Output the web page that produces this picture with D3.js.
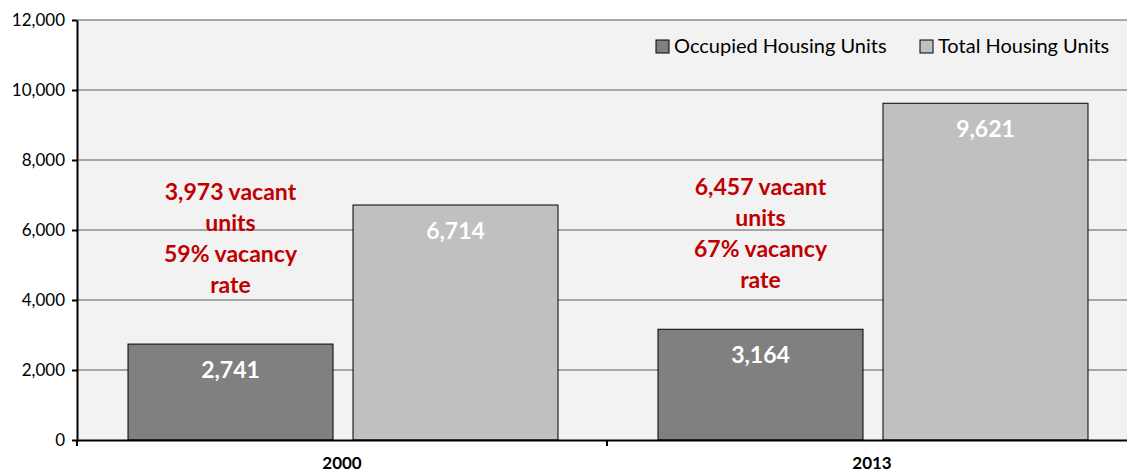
<!doctype html>
<html>
<head>
<meta charset="UTF-8">
<script src="https://d3js.org/d3.v7.min.js"></script>
<style>
  body { margin: 0; background: #fff; }
  text { font-family: Lato, "Open Sans", sans-serif; }
</style>
</head>
<body>
<svg id="chart" width="1127" height="473"></svg>
<script>
// chart data
const years = ["2000", "2013"];
const seriesNames = ["Occupied Housing Units", "Total Housing Units"];
const occupied = [2741, 3164];
const total = [6714, 9621];
const vacantNotes = [
  ["3,973 vacant", "units", "59% vacancy", "rate"],
  ["6,457 vacant", "units", "67% vacancy", "rate"]
];
const yTicks = [0, 2000, 4000, 6000, 8000, 10000, 12000];

const colors = ["#808080", "#c0c0c0"];

const svg = d3.select("#chart");
const margin = {top: 20, left: 77};
const plotW = 1060, plotH = 420;

const g = svg.append("g").attr("transform", "translate(" + margin.left + "," + margin.top + ")");

const x = d3.scaleBand().domain(years).range([0, plotW]);
const inner = d3.scaleBand().domain(seriesNames).range([51, 481]).paddingInner(20 / 225);
const y = d3.scaleLinear().domain([0, 12000]).range([plotH, 0]);

// plot background
g.append("rect").attr("x", 0).attr("y", 0).attr("width", plotW).attr("height", plotH).attr("fill", "#f2f2f2");

// gridlines
g.append("g").selectAll("line").data(yTicks.filter(d => d > 0)).enter().append("line")
  .attr("x1", 0).attr("x2", plotW)
  .attr("y1", d => y(d)).attr("y2", d => y(d))
  .attr("stroke", "#8c8c8c").attr("stroke-width", 1.5);

// bars
const data = years.map((yr, i) => ({year: yr, values: [occupied[i], total[i]]}));
const groups = g.selectAll(".grp").data(data).enter().append("g")
  .attr("transform", d => "translate(" + x(d.year) + ",0)");

groups.selectAll("rect").data(d => d.values.map((v, j) => ({s: seriesNames[j], v: v, j: j}))).enter()
  .append("rect")
  .attr("x", d => inner(d.s))
  .attr("y", d => y(d.v))
  .attr("width", inner.bandwidth())
  .attr("height", d => plotH - y(d.v))
  .attr("fill", d => colors[d.j])
  .attr("stroke", "#000").attr("stroke-width", 1);

groups.selectAll(".lbl").data(d => d.values.map((v, j) => ({s: seriesNames[j], v: v}))).enter()
  .append("text")
  .attr("x", d => inner(d.s) + inner.bandwidth() / 2)
  .attr("y", d => y(d.v) + 34)
  .attr("text-anchor", "middle")
  .attr("fill", "#fff").attr("font-weight", "bold").attr("font-size", 23)
  .text(d => d3.format(",")(d.v));

// vacancy notes
const noteY = [6860, 7000];
groups.each(function(d, i) {
  const t = d3.select(this).append("text")
    .attr("text-anchor", "middle")
    .attr("fill", "#c00000").attr("font-weight", "bold").attr("font-size", 23);
  vacantNotes[i].forEach((line, k) => {
    t.append("tspan")
      .attr("x", inner(seriesNames[0]) + inner.bandwidth() / 2)
      .attr("y", y(noteY[i]) + k * 31)
      .text(line);
  });
});

// y axis
const yAxis = g.append("g").call(d3.axisLeft(y).tickValues(yTicks).tickFormat(d3.format(",")).tickSize(5).tickSizeOuter(0));
yAxis.select(".domain").attr("stroke", "#000").attr("stroke-width", 2);
yAxis.selectAll(".tick line").attr("stroke", "#000").attr("stroke-width", 2);
yAxis.selectAll(".tick text").attr("font-size", 17).attr("fill", "#000").attr("x", -12)
  .style("font-family", "Lato, sans-serif");

// x axis
const xAxis = g.append("g").attr("transform", "translate(0," + plotH + ")")
  .call(d3.axisBottom(x).tickSize(0).tickSizeOuter(0));
xAxis.select(".domain").attr("stroke", "#000").attr("stroke-width", 2);
xAxis.selectAll(".tick text").attr("font-size", 17).attr("font-weight", "bold").attr("fill", "#000")
  .attr("dy", 0).attr("y", 29).style("font-family", "Lato, sans-serif");
xAxis.selectAll(".sep").data([0, x.bandwidth(), plotW]).enter().append("line")
  .attr("x1", d => d).attr("x2", d => d).attr("y1", 0).attr("y2", 6)
  .attr("stroke", "#000").attr("stroke-width", 2);

// legend
const legendX = [579, 843];
const legend = g.selectAll(".leg").data(seriesNames).enter().append("g")
  .attr("transform", (d, i) => "translate(" + legendX[i] + ",20)");
legend.append("rect").attr("width", 13).attr("height", 13)
  .attr("fill", (d, i) => colors[i]).attr("stroke", "#000").attr("stroke-width", 1);
legend.append("text").attr("x", 18).attr("y", 13).attr("font-size", 20).attr("fill", "#000").text(d => d);
</script>
</body>
</html>
